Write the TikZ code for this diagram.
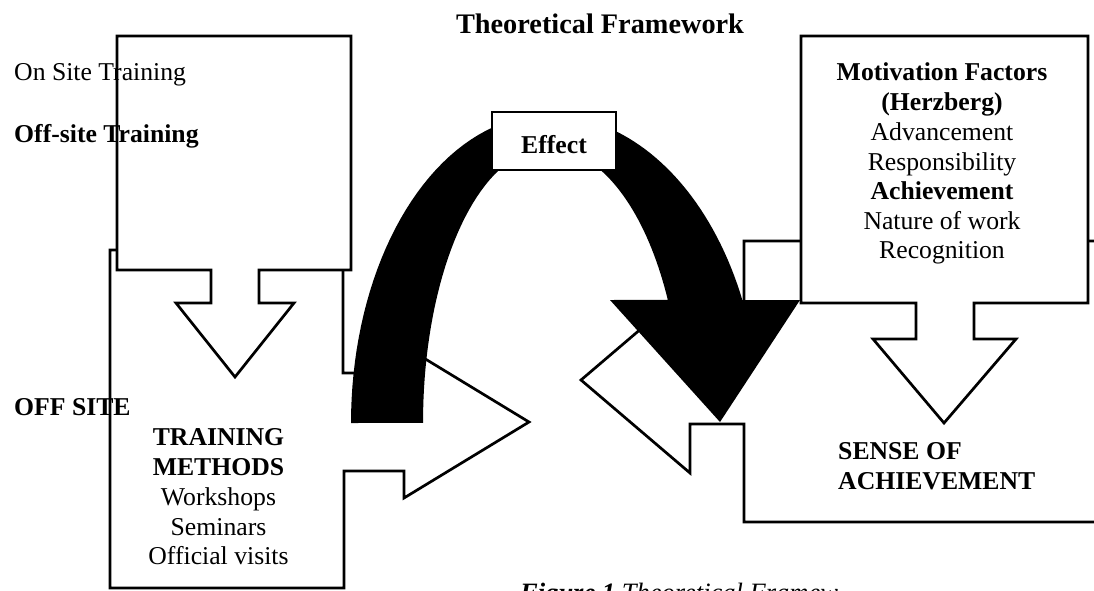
\documentclass[tikz,border=0pt]{standalone}
\usepackage{fontspec}
\setmainfont{Liberation Serif}
\begin{document}
\begin{tikzpicture}[x=1pt,y=-1pt,
  panel/.style={draw=black, fill=white, line width=2.7pt, line join=miter},
  txt/.style={inner sep=0pt, font=\fontsize{25.7}{30}\selectfont},
  btxt/.style={inner sep=0pt, font=\fontsize{25.7}{30}\selectfont\bfseries},
  captxt/.style={inner sep=0pt, font=\fontsize{26.5}{30}\selectfont\itshape}]
\useasboundingbox (0,0) rectangle (1094,590);

% lower-left right-arrow callout (training methods)
\draw[panel] (110,250) -- (343,250) -- (343,373) -- (404,373) -- (404,346)
  -- (529,422) -- (404,498) -- (404,471) -- (344,471) -- (344,588)
  -- (110,588) -- cycle;

% top-left down-arrow callout
\draw[panel] (117,36) -- (351,36) -- (351,270) -- (259,270) -- (259,303)
  -- (294,303) -- (235,377) -- (176,303) -- (211,303) -- (211,270)
  -- (117,270) -- cycle;

% lower-right left-arrow callout (sense of achievement)
\draw[panel] (744,241) -- (1110,241) -- (1110,522) -- (744,522) -- (744,424)
  -- (690,424) -- (690,473) -- (581,380) -- (690,287) -- (690,337)
  -- (744,337) -- cycle;

% top-right down-arrow callout (motivation factors)
\draw[panel] (801,36) -- (1088,36) -- (1088,303) -- (974,303) -- (974,339)
  -- (1016,339) -- (944,423) -- (873,339) -- (916,339) -- (916,303)
  -- (801,303) -- cycle;

% black curved arrow
\fill[black] (351,423)
  -- plot[domain=0:1, samples=40, variable=\t] ({548+197*cos(180+90*\t)},{423+308*sin(180+90*\t)})
  -- plot[domain=0:1, samples=40, variable=\t] ({548+212*cos(270+66.5*\t)},{423+308*sin(270+66.5*\t)})
  -- (800,300) -- (720,422) -- (610,300)
  -- plot[domain=0:1, samples=40, variable=\t] ({548+134*cos(333.4-63.4*\t)},{423+275*sin(333.4-63.4*\t)})
  -- plot[domain=0:1, samples=40, variable=\t] ({548+125*cos(270-90*\t)},{423+275*sin(270-90*\t)})
  -- cycle;

% Effect box
\node[panel, btxt, minimum width=124pt, minimum height=58pt, text height=24pt, text depth=0pt] (effect) at (554,141) {Effect};

% title
\node[inner sep=0pt, font=\fontsize{28.3}{32}\selectfont\bfseries, anchor=base] (title) at (600,33) {Theoretical Framework};

% left texts
\node[txt, anchor=base west] (onsite) at (14,80) {On Site Training};
\node[btxt, anchor=base west] (offsitetr) at (14,142) {Off-site Training};
\node[btxt, anchor=base west] (offsite) at (14,415) {OFF SITE};

% training methods
\node[btxt, anchor=base] (tm1) at (218.5,445) {TRAINING};
\node[btxt, anchor=base] (tm2) at (218.5,475) {METHODS};
\node[txt, anchor=base] (tm3) at (218.5,505) {Workshops};
\node[txt, anchor=base] (tm4) at (218.5,535) {Seminars};
\node[txt, anchor=base] (tm5) at (218.5,564) {Official visits};

% motivation factors
\node[btxt, anchor=base] (mf1) at (942,80) {Motivation Factors};
\node[btxt, anchor=base] (mf2) at (942,110) {(Herzberg)};
\node[txt, anchor=base] (mf3) at (942,140) {Advancement};
\node[txt, anchor=base] (mf4) at (942,170) {Responsibility};
\node[btxt, anchor=base] (mf5) at (942,199.5) {Achievement};
\node[txt, anchor=base] (mf6) at (942,229) {Nature of work};
\node[txt, anchor=base] (mf7) at (942,258.5) {Recognition};

% sense of achievement
\node[btxt, anchor=base west] (soa1) at (838,459) {SENSE OF};
\node[btxt, anchor=base west] (soa2) at (838,489.5) {ACHIEVEMENT};

% caption (cut off at the bottom edge)
\node[captxt, anchor=base west] (caption) at (520,601) {\textbf{Figure 1} Theoretical Framew};
\end{tikzpicture}
\end{document}
